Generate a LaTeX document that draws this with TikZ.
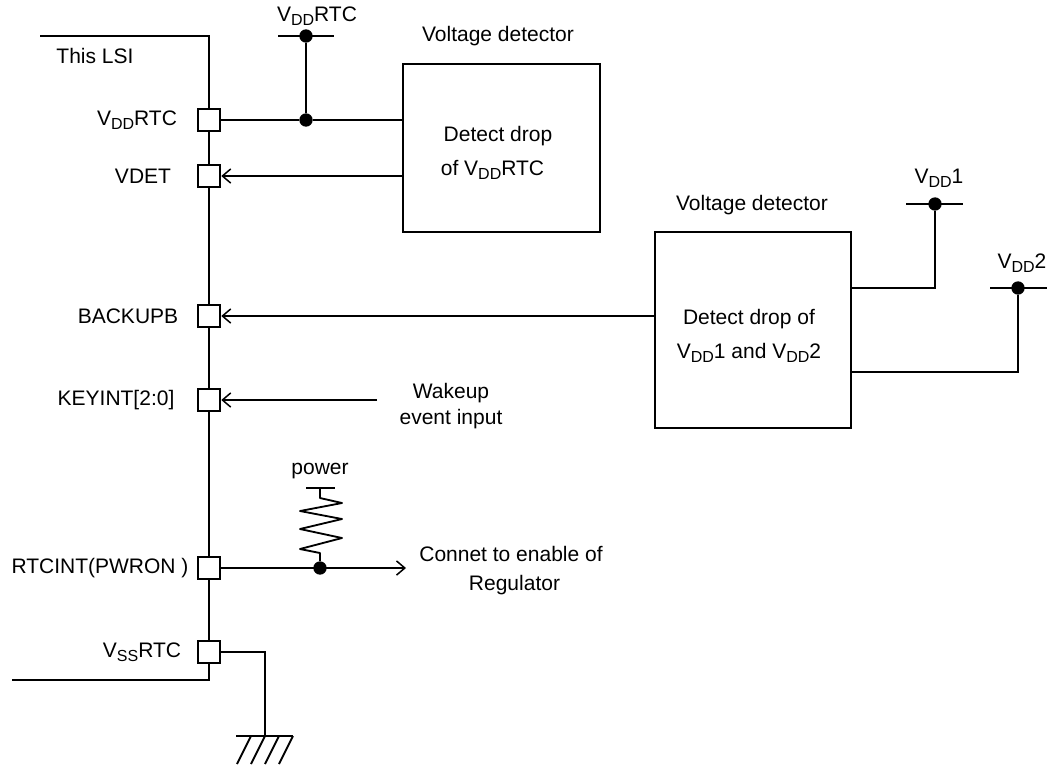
\documentclass[tikz,border=0pt]{standalone}
\usepackage{fontspec}
\setmainfont{Liberation Sans}
\usepackage{graphicx}
\usetikzlibrary{arrows.meta,positioning}
\newcommand{\lowsub}[1]{\raisebox{-0.33ex}{\fontsize{9.6pt}{10pt}\selectfont #1}}
\newcommand{\supplydd}{V\lowsub{DD}}
\newcommand{\supplyss}{V\lowsub{SS}}
\tikzset{
  wire/.style     = {black, line width=1.1pt},
  sig/.style      = {wire, -{Straight Barb[length=5pt,width=8.5pt,line width=0.9pt]}},
  pad/.style      = {draw=black, fill=white, line width=1.3pt, minimum size=13.4pt, inner sep=0pt},
  detector/.style = {draw=black, line width=1.1pt, inner sep=0pt},
  junction/.style = {circle, fill=black, inner sep=0pt, minimum size=8pt},
  lbl/.style      = {font=\fontsize{12.6pt}{15pt}\selectfont, inner sep=0pt, align=center},
}
\begin{document}
\begin{tikzpicture}[x=0.6pt,y=-0.6pt]
  \useasboundingbox (0,0) rectangle (1054,767);
  % chip outline
  \coordinate (lsitl) at (40,36);
  \coordinate (lsitr) at (209,36);
  \coordinate (lsibr) at (209,680);
  \coordinate (lsibl) at (12,680);
  \draw[wire] (lsitl) -- (lsitr) -- (lsibr) -- (lsibl);
  \node[lbl] (lsi) at (95,56) {This LSI};
  % pads
  \node[pad] (pvdd) at (209,120) {};
  \node[pad] (pvdet) at (209,176) {};
  \node[pad] (pback) at (209,316) {};
  \node[pad] (pkey) at (209,400) {};
  \node[pad] (prtc) at (209,568) {};
  \node[pad] (pvss) at (209,652) {};
  \node[lbl] (lvdd) at (137,120) {\supplydd RTC};
  \node[lbl] (lvdet) at (143,176) {VDET};
  \node[lbl] (lback) at (128,316) {BACKUPB};
  \node[lbl] (lkey) at (116,400) {KEYINT[2:0]};
  \node[lbl] (lrtc) at (100,568) {RTCINT(PWRON )};
  \node[lbl] (lvss) at (142,652) {\supplyss RTC};
  % detectors
  \node[detector, minimum width=118.2pt, minimum height=100.8pt] (det1) at (501.5,148) {};
  \node[lbl] (det1a) at (498,136) {Detect drop};
  \node[lbl] (det1b) at (492.5,170) {of \supplydd RTC};
  \node[lbl] (det1n) at (498,36) {Voltage detector};
  \node[detector, minimum width=117.6pt, minimum height=117.6pt] (det2) at (753,330) {};
  \node[lbl] (det2t) at (749,336) {Detect drop of\\[5.4pt]\supplydd 1 and \supplydd 2};
  \node[lbl] (det2n) at (752,205) {Voltage detector};
  % VDDRTC rail
  \node[junction] (jtop) at (306,36) {};
  \node[junction] (jpad) at (306,120) {};
  \coordinate (railal) at (278,36);
  \coordinate (railar) at (334,36);
  \draw[wire] (railal) -- (railar);
  \node[lbl] (vrtc) at (317,16) {\supplydd RTC};
  \draw[wire] (jtop) -- (jpad);
  \draw[wire] (pvdd) -- (jpad) -- (det1.west |- jpad);
  \draw[sig] (det1.west |- pvdet) -- (pvdet.east);
  \draw[sig] (det2.west |- pback) -- (pback.east);
  % VDD1 and VDD2 rails
  \node[junction] (jone) at (935,204) {};
  \node[junction] (jtwo) at (1018,288) {};
  \coordinate (railbl) at (906,204);
  \coordinate (railbr) at (963,204);
  \coordinate (railcl) at (990,288);
  \coordinate (railcr) at (1047,288);
  \draw[wire] (railbl) -- (railbr);
  \draw[wire] (railcl) -- (railcr);
  \node[lbl] (vone) at (939,178) {\supplydd 1};
  \node[lbl] (vtwo) at (1022,263) {\supplydd 2};
  \coordinate (outa) at (851,288);
  \coordinate (outb) at (851,372);
  \draw[wire] (outa) -| (jone);
  \draw[wire] (outb) -| (jtwo);
  % wakeup input
  \coordinate (wake) at (377,400);
  \draw[sig] (wake) -- (pkey.east);
  \node[lbl] (lwake) at (451,406.5) {Wakeup\\[0.6pt]event input};
  % pull-up and regulator enable
  \node[junction] (jpull) at (320,568) {};
  \coordinate (pwrl) at (306,488);
  \coordinate (pwrr) at (335,488);
  \coordinate (pwr) at (320,488);
  \draw[wire] (pwrl) -- (pwrr);
  \node[lbl] (lpwr) at (320,471) {power};
  \draw[wire, line join=round] (pwr) -- (320,498) -- (342,503) -- (300,511) -- (342,519)
    -- (300,529) -- (342,538) -- (300,549) -- (320,553) -- (jpull);
  \coordinate (reg) at (406,568);
  \draw[sig] (prtc) -- (reg);
  \node[lbl] (lreg) at (511,554) {Connet to enable of};
  \node[lbl] (lregb) at (514.5,585) {Regulator};
  % ground
  \coordinate (gnd) at (265,736);
  \draw[wire] (pvss) -| (gnd);
  \draw[wire] (236,736) -- (293,736);
  \foreach \hx in {251,265,279,293}
    \draw[wire] (\hx,736) -- (\hx-14,764);
\end{tikzpicture}
\end{document}
